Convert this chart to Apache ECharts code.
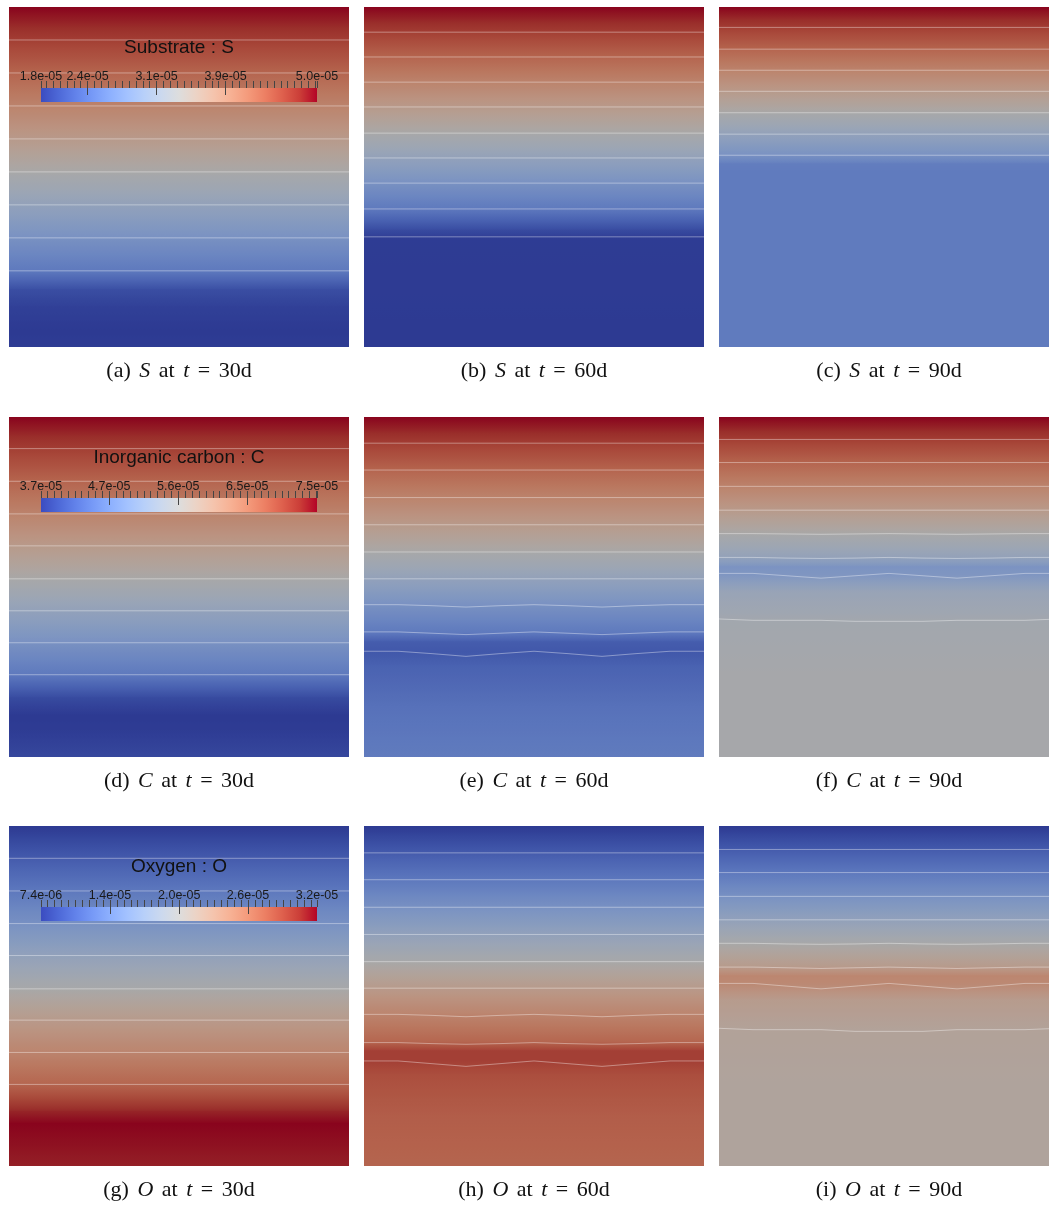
<!DOCTYPE html>
<html>
<head>
<meta charset="utf-8">
<script src="https://cdn.jsdelivr.net/npm/echarts@6/dist/echarts.min.js"></script>
<style>
html, body { margin: 0; padding: 0; background: #fff; }
#main { width: 1049px; height: 1207px; }
</style>
</head>
<body>
<div id="main"></div>
<script>
// concentration profiles: [depth in % of domain (0 = top), value in 1e-5]
var S30 = [[0, 5.0], [9.7, 4.68], [19.4, 4.36], [29.1, 4.04], [38.8, 3.72], [48.5, 3.40], [58.2, 3.08], [67.9, 2.76], [77.6, 2.44], [83, 1.99], [88, 1.86], [95, 1.80], [100, 1.82]];
var S60 = [[0, 5.0], [7.4, 4.68], [14.7, 4.36], [22.1, 4.04], [29.4, 3.72], [37.1, 3.40], [44.4, 3.08], [51.8, 2.76], [59.4, 2.44], [65.5, 1.96], [68, 1.82], [100, 1.80]];
var S90 = [[0, 5.0], [6.0, 4.68], [12.4, 4.36], [18.6, 4.04], [24.8, 3.72], [31.1, 3.40], [37.4, 3.08], [43.6, 2.76], [46, 2.50], [48, 2.47], [100, 2.47]];
var C30 = [[0, 7.5], [9.3, 7.12], [18.9, 6.74], [28.5, 6.36], [37.9, 5.98], [47.6, 5.60], [57, 5.22], [66.4, 4.84], [75.8, 4.46], [82.4, 3.89], [87.5, 3.70], [92, 3.72], [100, 3.85]];
var C60 = [[0, 7.5], [7.7, 7.12], [15.6, 6.74], [23.7, 6.36], [31.7, 5.98], [39.7, 5.60], [47.6, 5.22], [55.2, 4.84], [63.5, 4.46], [66, 4.10], [69, 4.04], [73, 4.16], [85, 4.36], [100, 4.50]];
var C90 = [[0, 7.5], [6.6, 7.12], [13.5, 6.74], [20.5, 6.36], [27.4, 5.98], [34.4, 5.60], [41.4, 5.22], [44, 4.88], [46.5, 4.95], [51, 5.30], [59.5, 5.49], [75, 5.56], [100, 5.56]];
var O30 = [[0, 0.74], [9.5, 0.99], [19.1, 1.23], [28.7, 1.48], [38.1, 1.72], [47.9, 1.97], [57.1, 2.22], [66.6, 2.46], [76, 2.71], [83.8, 3.08], [87.4, 3.20], [100, 3.10]];
var O60 = [[0, 0.74], [7.9, 0.99], [15.8, 1.23], [23.9, 1.48], [31.9, 1.72], [39.9, 1.97], [47.7, 2.22], [55.4, 2.46], [63.5, 2.71], [66, 2.95], [69, 2.95], [73, 2.86], [85, 2.76], [100, 2.71]];
var O90 = [[0, 0.74], [6.9, 0.99], [13.7, 1.23], [20.7, 1.48], [27.6, 1.72], [34.5, 1.97], [41.5, 2.22], [44, 2.44], [46.5, 2.40], [51, 2.20], [59.5, 2.10], [75, 2.07], [100, 2.07]];

// iso-line depths (%); a list gives the depth at each xs position
var xs = [0, 0.1, 0.2, 0.3, 0.4, 0.5, 0.6, 0.7, 0.8, 0.9, 1];
var S30Iso = [9.7, 19.4, 29.1, 38.8, 48.5, 58.2, 67.9, 77.6];
var S60Iso = [7.4, 14.7, 22.1, 29.4, 37.1, 44.4, 51.8, 59.4, 67.6];
var S90Iso = [6.0, 12.4, 18.6, 24.8, 31.1, 37.4, 43.6];
var C30Iso = [9.3, 18.9, 28.5, 37.9, 47.6, 57.0, 66.4, 75.8];
var C60Iso = [7.7, 15.6, 23.7, 31.7, 39.7, 47.6,
  [55.2, 55.2, 55.5, 55.9, 55.5, 55.2, 55.5, 55.9, 55.5, 55.2, 55.2],
  [63.2, 63.2, 63.6, 64.0, 63.6, 63.2, 63.6, 64.0, 63.6, 63.2, 63.2],
  [68.9, 68.9, 69.6, 70.4, 69.6, 68.9, 69.6, 70.4, 69.6, 68.9, 68.9]];
var C90Iso = [6.6, 13.4, 20.4, 27.4,
  [34.3, 34.3, 34.4, 34.5, 34.4, 34.3, 34.4, 34.5, 34.4, 34.3, 34.3],
  [41.3, 41.3, 41.5, 41.6, 41.5, 41.3, 41.5, 41.6, 41.5, 41.3, 41.3],
  [46.0, 46.0, 46.7, 47.4, 46.7, 46.0, 46.7, 47.4, 46.7, 46.0, 46.0],
  [59.4, 59.8, 59.8, 59.8, 60.1, 60.1, 60.1, 59.8, 59.8, 59.8, 59.4]];
var O30Iso = [9.5, 19.1, 28.7, 38.1, 47.9, 57.1, 66.6, 76.0];
var O60Iso = [7.9, 15.8, 23.9, 31.9, 39.9, 47.7,
  [55.4, 55.4, 55.7, 56.1, 55.7, 55.4, 55.7, 56.1, 55.7, 55.4, 55.4],
  [63.7, 63.7, 64.0, 64.2, 64.0, 63.7, 64.0, 64.2, 64.0, 63.7, 63.7],
  [69.1, 69.1, 69.9, 70.7, 69.9, 69.1, 69.9, 70.7, 69.9, 69.1, 69.1]];
var O90Iso = [6.9, 13.7, 20.7, 27.6,
  [34.5, 34.5, 34.7, 34.8, 34.7, 34.5, 34.7, 34.8, 34.7, 34.5, 34.5],
  [41.5, 41.5, 41.7, 41.9, 41.7, 41.5, 41.7, 41.9, 41.7, 41.5, 41.5],
  [46.3, 46.3, 47.1, 47.9, 47.1, 46.3, 47.1, 47.9, 47.1, 46.3, 46.3],
  [59.5, 59.9, 59.9, 59.9, 60.4, 60.4, 60.4, 59.9, 59.9, 59.9, 59.5]];

// colour bars
var sRange = [1.8, 5.0], sTicks = [1.8, 2.34, 3.14, 3.94, 5.0];
var sLabels = ['1.8e-05', '2.4e-05', '3.1e-05', '3.9e-05', '5.0e-05'];
var cRange = [3.7, 7.5], cTicks = [3.7, 4.64, 5.59, 6.54, 7.5];
var cLabels = ['3.7e-05', '4.7e-05', '5.6e-05', '6.5e-05', '7.5e-05'];
var oRange = [0.74, 3.2], oTicks = [0.74, 1.355, 1.972, 2.585, 3.2];
var oLabels = ['7.4e-06', '1.4e-05', '2.0e-05', '2.6e-05', '3.2e-05'];

var days = [30, 60, 90];
var letters = ['a', 'b', 'c', 'd', 'e', 'f', 'g', 'h', 'i'];

var rows = [
  { title: 'Substrate : S', sym: 'S', range: sRange, ticks: sTicks, labels: sLabels, prof: [S30, S60, S90], iso: [S30Iso, S60Iso, S90Iso] },
  { title: 'Inorganic carbon : C', sym: 'C', range: cRange, ticks: cTicks, labels: cLabels, prof: [C30, C60, C90], iso: [C30Iso, C60Iso, C90Iso] },
  { title: 'Oxygen : O', sym: 'O', range: oRange, ticks: oTicks, labels: oLabels, prof: [O30, O60, O90], iso: [O30Iso, O60Iso, O90Iso] }
];

// layout
var colLeft = [9, 364, 719], colW = [340, 340, 330], xMax = [1, 1, 330 / 340];
var rowTop = [7, 417, 826], panelH = 340;
var capX = [179, 534, 889];

// cool to warm
var cw = [[59, 76, 192], [77, 104, 215], [98, 130, 234], [119, 154, 247], [141, 176, 254], [163, 194, 255],
  [184, 208, 249], [204, 217, 238], [221, 221, 221], [236, 211, 197], [245, 196, 173], [247, 177, 148],
  [244, 154, 123], [236, 127, 99], [222, 96, 77], [203, 62, 56], [180, 4, 38]];
var shade = 0.76;

function cwColor(t, k) {
  t = Math.max(0, Math.min(1, t));
  var p = t * (cw.length - 1), i = Math.min(cw.length - 2, Math.floor(p)), f = p - i;
  var c = [0, 1, 2].map(function (j) { return Math.round((cw[i][j] + (cw[i + 1][j] - cw[i][j]) * f) * k); });
  return 'rgb(' + c.join(',') + ')';
}

function fieldItem(prof, range) {
  return function (params, api) {
    var i = params.dataIndex;
    if (i >= prof.length - 1) return;
    var cs = params.coordSys;
    var y0 = api.coord([0, prof[i][0]])[1], y1 = api.coord([0, prof[i + 1][0]])[1];
    var stops = [];
    for (var k = 0; k <= 8; k++) {
      var v = prof[i][1] + (prof[i + 1][1] - prof[i][1]) * k / 8;
      stops.push({ offset: k / 8, color: cwColor((v - range[0]) / (range[1] - range[0]), shade) });
    }
    return {
      type: 'rect',
      shape: { x: cs.x, y: y0, width: cs.width, height: y1 - y0 + 1 },
      style: { fill: new echarts.graphic.LinearGradient(0, 0, 0, 1, stops) }
    };
  };
}

function barItem(params, api) {
  var a = api.coord([api.value(0), 0]), b = api.coord([api.value(1), 1]);
  var stops = cw.map(function (c, k) { return { offset: k / (cw.length - 1), color: 'rgb(' + c.join(',') + ')' }; });
  return {
    type: 'rect',
    shape: { x: a[0], y: b[1], width: b[0] - a[0], height: a[1] - b[1] },
    style: { fill: new echarts.graphic.LinearGradient(0, 0, 1, 0, stops) }
  };
}

function minorTicks(ticks, range) {
  var step = (ticks[2] - ticks[1]) / 10, out = [range[0], range[1]];
  for (var v = ticks[1]; v >= range[0] - 1e-9; v -= step) out.push(v);
  for (v = ticks[1] + step; v <= range[1] + 1e-9; v += step) out.push(v);
  return out;
}

var grid = [], xAxis = [], yAxis = [], series = [], graphic = [];
var serif = 'Liberation Serif', sans = 'Liberation Sans';
var capStyle = { fontFamily: serif, fontSize: 22, fill: '#111' };
var capRich = {
  n: capStyle,
  i: Object.assign({}, capStyle, { fontStyle: 'italic' }),
  s: Object.assign({}, capStyle, { padding: [0, 1.5, 0, 1.5] })
};

rows.forEach(function (f, r) {
  days.forEach(function (day, c) {
    var gi = grid.length, xi = xAxis.length, yi = yAxis.length;
    grid.push({ left: colLeft[c], top: rowTop[r], width: colW[c], height: panelH });
    xAxis.push({ gridIndex: gi, type: 'value', min: 0, max: xMax[c], show: false });
    yAxis.push({ gridIndex: gi, type: 'value', min: 0, max: 100, inverse: true, show: false });
    var prof = f.prof[c];
    series.push({
      type: 'custom', xAxisIndex: xi, yAxisIndex: yi, clip: true, silent: true,
      data: prof.map(function (p) { return [0, p[0], p[1]]; }),
      renderItem: fieldItem(prof, f.range)
    });
    f.iso[c].forEach(function (iso) {
      series.push({
        type: 'line', xAxisIndex: xi, yAxisIndex: yi, silent: true, symbol: 'none', clip: true, z: 3,
        data: xs.map(function (x, k) { return [x, Array.isArray(iso) ? iso[k] : iso]; }),
        lineStyle: { color: 'rgba(255,255,255,0.38)', width: 1 }
      });
    });
    graphic.push({
      type: 'text', x: capX[c], y: rowTop[r] + panelH + 24, z: 100,
      style: {
        text: '{n|(' + letters[r * 3 + c] + ')}{s| }{i|' + f.sym + '}{s| }{n|at}{s| }{i|t}{s| }{n|=}{s| }{n|' + day + 'd}',
        align: 'center', verticalAlign: 'middle', rich: capRich
      }
    });
  });

  // colour bar
  var gi = grid.length, xi = xAxis.length, yi = yAxis.length, barTop = rowTop[r] + 81;
  grid.push({ left: 41, top: barTop, width: 276, height: 14 });
  xAxis.push({
    gridIndex: gi, type: 'value', min: f.range[0], max: f.range[1], position: 'top', z: 20,
    axisLine: { show: false, onZero: false }, splitLine: { show: false },
    axisTick: { show: true, length: 7, lineStyle: { color: '#444', width: 1 }, customValues: minorTicks(f.ticks, f.range) },
    axisLabel: {
      show: true, margin: 5, fontSize: 12.5, fontFamily: sans, color: '#1a1a1a', customValues: f.ticks,
      formatter: function (v) {
        var best = 0;
        f.ticks.forEach(function (t, k) { if (Math.abs(t - v) < Math.abs(f.ticks[best] - v)) best = k; });
        return f.labels[best];
      }
    }
  });
  xAxis.push({
    gridIndex: gi, type: 'value', min: f.range[0], max: f.range[1], position: 'top', z: 20,
    axisLine: { show: false, onZero: false }, splitLine: { show: false }, axisLabel: { show: false },
    axisTick: { show: true, inside: true, length: 7, lineStyle: { color: '#444', width: 1 }, customValues: f.ticks.slice(1, -1) }
  });
  yAxis.push({ gridIndex: gi, type: 'value', min: 0, max: 1, show: false });
  series.push({
    type: 'custom', xAxisIndex: xi, yAxisIndex: yi, silent: true, z: 10,
    data: [[f.range[0], f.range[1]]], renderItem: barItem
  });
  graphic.push({
    type: 'text', x: 179, y: rowTop[r] + 41, z: 100,
    style: { text: f.title, align: 'center', verticalAlign: 'middle', fontFamily: sans, fontSize: 19, fill: '#111' }
  });
});

var chart = echarts.init(document.getElementById('main'));
chart.setOption({
  backgroundColor: '#ffffff',
  animation: false,
  grid: grid, xAxis: xAxis, yAxis: yAxis,
  series: series,
  graphic: graphic
});
</script>
</body>
</html>
